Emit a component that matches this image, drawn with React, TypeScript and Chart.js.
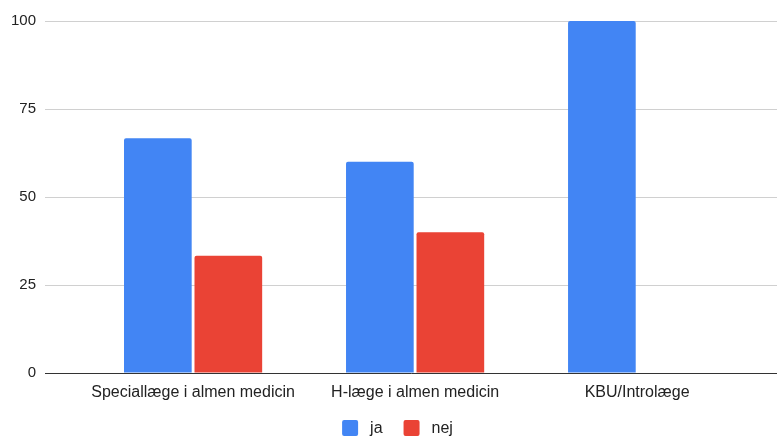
import React, { useEffect, useRef } from "react";
import { Chart, registerables } from "chart.js";

Chart.register(...registerables);

const categories = ["Speciallæge i almen medicin", "H-læge i almen medicin", "KBU/Introlæge"];
const jaValues = [66.7, 60, 100];
const nejValues = [33.3, 40, 0];
const yTicks = [0, 25, 50, 75, 100];
const seriesNames = ["ja", "nej"];
const seriesColors = ["#4285F4", "#EA4335"];

const FONT_FAMILY = "'Liberation Sans', Arial, sans-serif";

const bottomLegend = {
  id: "bottomLegend",
  afterDraw(chart: any) {
    const ctx = chart.ctx;
    ctx.save();
    ctx.font = `16px ${FONT_FAMILY}`;
    ctx.textBaseline = "middle";
    ctx.textAlign = "left";
    const box = 16;
    const gapText = 12;
    const gapItem = 21;
    const widths = seriesNames.map((n) => box + gapText + ctx.measureText(n).width);
    const total = widths.reduce((a, b) => a + b, 0) + gapItem * (seriesNames.length - 1);
    let x = chart.width / 2 + 9 - total / 2;
    const cy = chart.height - 9;
    seriesNames.forEach((n, i) => {
      ctx.fillStyle = seriesColors[i];
      ctx.beginPath();
      if (ctx.roundRect) ctx.roundRect(x, cy - box / 2, box, box, 2);
      else ctx.rect(x, cy - box / 2, box, box);
      ctx.fill();
      ctx.fillStyle = "#222";
      ctx.fillText(n, x + box + gapText, cy + 1);
      x += widths[i] + gapItem;
    });
    ctx.restore();
  },
};

export default function App() {
  const ref = useRef<HTMLCanvasElement>(null);
  useEffect(() => {
    if (!ref.current) return;
    const xFont = { family: FONT_FAMILY, size: 16 };
    const yFont = { family: FONT_FAMILY, size: 15 };
    const chart = new Chart(ref.current, {
      type: "bar",
      data: {
        datasets: seriesNames.map((name, k) => ({
          label: name,
          data: (k === 0 ? jaValues : nejValues).map((v, i) => ({ x: i, y: v })),
          backgroundColor: seriesColors[k],
          borderRadius: 2,
          barPercentage: 0.96,
          categoryPercentage: 0.635,
        })),
      },
      plugins: [bottomLegend],
      options: {
        animation: false,
        responsive: false,
        maintainAspectRatio: false,
        layout: { padding: { top: 21, right: 0, left: 0, bottom: 34 } },
        plugins: {
          tooltip: { enabled: false },
          legend: { display: false },
        },
        scales: {
          x: {
            type: "linear",
            offset: false,
            min: -0.667,
            max: 2.63,
            afterBuildTicks: (s: any) => {
              s.ticks = categories.map((_, i) => ({ value: i }));
            },
            ticks: {
              font: xFont,
              color: "#222",
              autoSkip: false,
              maxRotation: 0,
              padding: 10,
              callback: (v: any) => categories[v] ?? "",
            },
            grid: { display: false, drawTicks: false },
            border: { display: true, color: "#333", width: 1 },
            afterFit: (s: any) => {
              s.height = 30;
            },
          },
          y: {
            min: 0,
            max: 100,
            afterBuildTicks: (s: any) => {
              s.ticks = yTicks.map((v) => ({ value: v }));
            },
            ticks: { font: yFont, color: "#222", padding: 9 },
            grid: { color: "#d0d0d0", drawTicks: false },
            border: { display: false },
            afterFit: (s: any) => {
              s.width = 45;
            },
          },
        },
      },
    });
    return () => chart.destroy();
  }, []);
  return (
    <div style={{ position: "fixed", left: 0, top: 0, width: 777, height: 437, background: "#fff" }}>
      <canvas ref={ref} width={777} height={437} />
    </div>
  );
}
